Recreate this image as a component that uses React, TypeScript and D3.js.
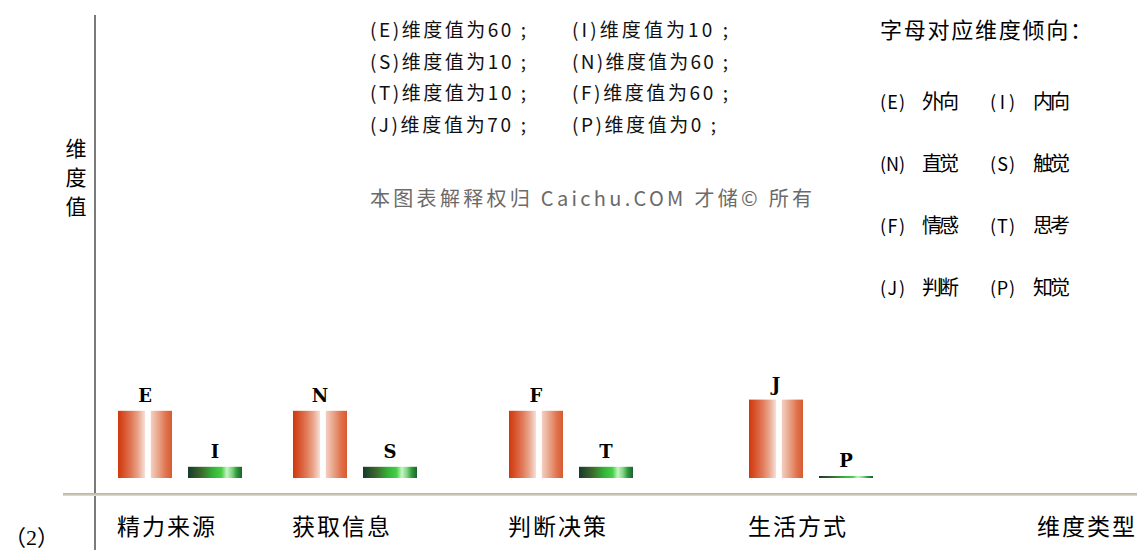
import React from "react";
import * as d3 from "d3";

// categories and the two letters/values drawn in each group
const categories = ["精力来源", "获取信息", "判断决策", "生活方式"];
const leftLetters = ["E", "N", "F", "J"];
const leftValues = [60, 60, 60, 70];
const rightLetters = ["I", "S", "T", "P"];
const rightValues = [10, 10, 10, 0];

// order the letters appear in the note block at the top
const noteRows = [
  ["E", "I"],
  ["S", "N"],
  ["T", "F"],
  ["J", "P"],
];

// legend: letter -> meaning
const legendRows = [
  ["E", "外向", "I", "内向"],
  ["N", "直觉", "S", "触觉"],
  ["F", "情感", "T", "思考"],
  ["J", "判断", "P", "知觉"],
];

const yTitle = ["维", "度", "值"];
const xTitle = "维度类型";
const legendTitle = "字母对应维度倾向：";
const watermark = "本图表解释权归 Caichu.COM 才储© 所有";
const figNumber = "2";

const W = 1142;
const H = 550;
const FONT = "'Noto Sans CJK SC', 'DejaVu Sans', sans-serif";

const valueOf: Record<string, number> = {};
leftLetters.forEach((l, i) => (valueOf[l] = leftValues[i]));
rightLetters.forEach((l, i) => (valueOf[l] = rightValues[i]));

// rough text width for the bitmap-like font of the original
const textW = (s: string) =>
  Array.from(s).reduce((a, c) => a + (c.charCodeAt(0) > 255 ? 18 : 12), 0);

export default function App() {
  const baseY = 478;
  const y = d3.scaleLinear().domain([0, 100]).range([baseY, 366]);
  // group centres are not evenly spaced in the original
  const xc = d3.scaleOrdinal<string, number>().domain(categories).range([180, 355, 571, 811]);
  const barW = 54;
  const gap = 16;

  const bar = (cx: number, v: number, fill: string, key: string, letter: string) => {
    const top = Math.min(y(v), baseY - 2);
    return (
      <g key={key}>
        <rect x={cx} y={top} width={barW} height={baseY - top} fill={fill} />
        <text
          x={cx + barW / 2}
          y={top - 9}
          textAnchor="middle"
          fontFamily="'DejaVu Serif', serif"
          fontWeight="bold"
          fontSize={18}
          fill="#000"
        >
          {letter}
        </text>
      </g>
    );
  };

  return (
    <svg width={W} height={H} style={{ position: "absolute", left: 0, top: 0, background: "#fff" }}>
      <defs>
        <linearGradient id="red" x1="0" x2="1" y1="0" y2="0">
          <stop offset="0" stopColor="#d0380a" />
          <stop offset="0.12" stopColor="#d85530" />
          <stop offset="0.25" stopColor="#e07a58" />
          <stop offset="0.38" stopColor="#eaa890" />
          <stop offset="0.5" stopColor="#f8e0d8" />
          <stop offset="0.51" stopColor="#ffffff" />
          <stop offset="0.6" stopColor="#ffffff" />
          <stop offset="0.61" stopColor="#f4cfc2" />
          <stop offset="0.75" stopColor="#e9a488" />
          <stop offset="0.88" stopColor="#e07550" />
          <stop offset="1" stopColor="#d85a30" />
        </linearGradient>
        <linearGradient id="green" x1="0" x2="1" y1="0" y2="0">
          <stop offset="0" stopColor="#173a2c" />
          <stop offset="0.25" stopColor="#3c6a2c" />
          <stop offset="0.45" stopColor="#34b038" />
          <stop offset="0.62" stopColor="#46d046" />
          <stop offset="0.72" stopColor="#c8f4c8" />
          <stop offset="0.82" stopColor="#7cd27c" />
          <stop offset="0.9" stopColor="#2c9c3c" />
          <stop offset="1" stopColor="#1f6030" />
        </linearGradient>
        <linearGradient id="axis" x1="0" x2="0" y1="0" y2="1">
          <stop offset="0" stopColor="#b4af98" />
          <stop offset="1" stopColor="#e2ded2" />
        </linearGradient>
      </defs>

      {/* axes */}
      <line x1={95} x2={95} y1={15} y2={H} stroke="#7a7a7a" strokeWidth={2} />
      <rect x={63} y={493} width={1074} height={3} fill="url(#axis)" />

      {/* y title */}
      {yTitle.map((c, i) => (
        <text key={c} x={76} y={156 + i * 29} textAnchor="middle" fontFamily={FONT} fontSize={21} fill="#000">
          {c}
        </text>
      ))}

      {/* bars */}
      {categories.map((c, i) => {
        const cx = xc(c);
        return (
          <g key={c}>
            {bar(cx - gap / 2 - barW, leftValues[i], "url(#red)", c + "l", leftLetters[i])}
            {bar(cx + gap / 2, rightValues[i], "url(#green)", c + "r", rightLetters[i])}
            <text
              x={cx - 14}
              y={535}
              textAnchor="middle"
              fontFamily={FONT}
              fontSize={23}
              textLength={98}
              lengthAdjust="spacing"
              fill="#000"
            >
              {c}
            </text>
          </g>
        );
      })}

      <text x={1086} y={535} textAnchor="middle" fontFamily={FONT} fontSize={23} textLength={98} lengthAdjust="spacing">
        {xTitle}
      </text>

      {/* notes */}
      {noteRows.map((row, r) =>
        row.map((l, k) => {
          const s = `(${l})维度值为${valueOf[l]} ;`;
          return (
            <text
              key={l}
              x={k === 0 ? 370 : 572}
              y={37 + r * 31.5}
              fontFamily={FONT}
              fontSize={19}
              textLength={textW(s)}
              lengthAdjust="spacing"
              fill="#111"
            >
              {s}
            </text>
          );
        })
      )}

      <text x={370} y={206} fontFamily={FONT} fontSize={20} textLength={442} lengthAdjust="spacing" fill="#6a6a6a">
        {watermark}
      </text>

      {/* legend */}
      <text x={880} y={38} fontFamily={FONT} fontSize={22} textLength={212} lengthAdjust="spacing" fill="#000">
        {legendTitle}
      </text>
      {legendRows.map((r, i) => {
        const ty = 109 + i * 62;
        return (
          <g key={r[0]} fontFamily={FONT} fill="#000">
            <text x={880} y={ty} fontSize={18} textLength={25} lengthAdjust="spacing">{`(${r[0]})`}</text>
            <text x={922} y={ty} fontSize={20} textLength={37} lengthAdjust="spacing">{r[1]}</text>
            <text x={990} y={ty} fontSize={18} textLength={25} lengthAdjust="spacing">{`(${r[2]})`}</text>
            <text x={1033} y={ty} fontSize={20} textLength={37} lengthAdjust="spacing">{r[3]}</text>
          </g>
        );
      })}

      {/* figure number in full-width brackets */}
      <text x={4} y={545} fontSize={22} fill="#000">
        <tspan fontFamily={FONT}>（</tspan>
        <tspan fontFamily="'Liberation Serif', serif">{figNumber}</tspan>
        <tspan fontFamily={FONT}>）</tspan>
      </text>
    </svg>
  );
}
